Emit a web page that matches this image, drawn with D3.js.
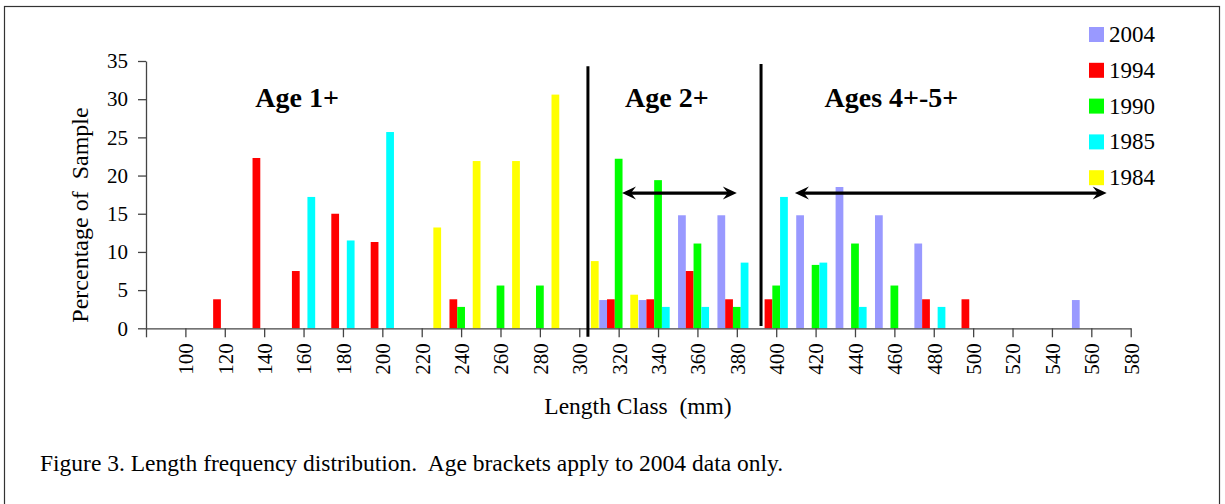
<!DOCTYPE html>
<html>
<head>
<meta charset="utf-8">
<script src="https://cdn.jsdelivr.net/npm/d3@7"></script>
<style>
  body { margin: 0; background: #fff; }
  text { font-family: "Liberation Serif", "Times New Roman", serif; fill: #000; }
</style>
</head>
<body>
<div id="chart-area"></div>
<script>
// length classes (mm) on the x axis
var lengthClasses = [100,120,140,160,180,200,220,240,260,280,300,320,340,360,380,400,420,440,460,480,500,520,540,560,580];
var series = ["2004","1994","1990","1985","1984"];
var colors = ["#9999FF","#FF0000","#00FF00","#00FFFF","#FFFF00"];

// percentage of sample, one value per length class
var v2004 = [0,0,0,0,0,0,0,0,0,0,0,3.7,3.7,14.8,14.8,0,14.8,18.5,14.8,11.1,0,0,0,3.7,0];
var v1994 = [0,3.8,22.3,7.5,15.0,11.3,0,3.8,0,0,0,3.8,3.8,7.5,3.8,3.8,0,0,0,3.8,3.8,0,0,0,0];
var v1990 = [0,0,0,0,0,0,0,2.8,5.6,5.6,0,22.2,19.4,11.1,2.8,5.6,8.3,11.1,5.6,0,0,0,0,0,0];
var v1985 = [0,0,0,17.2,11.5,25.7,0,0,0,0,0,0,2.8,2.8,8.6,17.2,8.6,2.8,0,2.8,0,0,0,0,0];
var v1984 = [0,0,0,0,0,0,13.2,21.9,21.9,30.6,8.8,4.4,0,0,0,0,0,0,0,0,0,0,0,0,0];
var yTicks = [0,5,10,15,20,25,30,35];

// age bracket annotations (in data units)
var ageLabels = [{text:"Age 1+", at:156.7}, {text:"Age 2+", at:344.5}, {text:"Ages 4+-5+", at:458.5}];
var dividers = [{at:304.4, top:34.3, bottom:-1.1}, {at:392.3, top:34.6, bottom:0.3}];
var arrows = [{from:321.7, to:380, y:17.7}, {from:409.5, to:567.8, y:17.7}];

var values = [v2004, v1994, v1990, v1985, v1984];

var width = 1225, height = 504;
var svg = d3.select("#chart-area").append("svg")
    .attr("width", width)
    .attr("height", height);

// outer frame
svg.append("rect")
    .attr("x", 4.5).attr("y", 6.5)
    .attr("width", 1215).attr("height", 520)
    .attr("fill", "none")
    .attr("stroke", "#333")
    .attr("stroke-width", 1.2);

var x = d3.scaleLinear().domain([80, 580]).range([146, 1130.7]);
var y = d3.scaleLinear().domain([0, 35]).range([328.3, 61]);
var step = x(100) - x(80);
var xSub = d3.scaleBand().domain(series).range([-step / 2, step / 2]).paddingOuter(0.04);

// bars
series.forEach(function(s, i) {
    var pts = lengthClasses.map(function(c, j) { return {c: c, v: values[i][j]}; })
        .filter(function(d) { return d.v > 0; });
    svg.append("g").selectAll("rect")
        .data(pts)
        .enter().append("rect")
        .attr("x", function(d) { return x(d.c) + xSub(s); })
        .attr("y", function(d) { return y(d.v); })
        .attr("width", xSub.bandwidth())
        .attr("height", function(d) { return y(0) - y(d.v); })
        .attr("fill", colors[i]);
});

// axes
var yAxis = d3.axisLeft(y).tickValues(yTicks).tickSize(8).tickSizeOuter(0).tickPadding(10);
var gy = svg.append("g")
    .attr("transform", "translate(" + x(80) + ",0)")
    .call(yAxis);
gy.selectAll("text").attr("font-size", "21px").attr("font-family", "Liberation Serif");

var xAxis = d3.axisBottom(x)
    .tickValues([80].concat(lengthClasses))
    .tickSize(9).tickSizeOuter(0)
    .tickFormat(function(d) { return d === 80 ? "" : d; });
var gx = svg.append("g")
    .attr("transform", "translate(0," + y(0) + ")")
    .call(xAxis);
gx.selectAll("text")
    .attr("font-size", "21px")
    .attr("font-family", "Liberation Serif")
    .attr("transform", "rotate(-90)")
    .attr("x", -15)
    .attr("y", 0)
    .attr("dy", "0.35em")
    .attr("text-anchor", "end");

svg.selectAll(".domain, .tick line").attr("stroke", "#444").attr("stroke-width", 1.3);

// axis titles
svg.append("text")
    .attr("x", 638)
    .attr("y", 414)
    .attr("font-size", "23.5px")
    .attr("text-anchor", "middle")
    .style("white-space", "pre")
    .text("Length Class  (mm)");

svg.append("text")
    .attr("transform", "rotate(-90)")
    .attr("x", -215)
    .attr("y", 88)
    .attr("font-size", "24px")
    .attr("text-anchor", "middle")
    .style("white-space", "pre")
    .text("Percentage of  Sample");

// dividers
svg.selectAll(".divider")
    .data(dividers)
    .enter().append("line")
    .attr("class", "divider")
    .attr("x1", function(d) { return x(d.at); })
    .attr("x2", function(d) { return x(d.at); })
    .attr("y1", function(d) { return y(d.top); })
    .attr("y2", function(d) { return y(d.bottom); })
    .attr("stroke", "#000")
    .attr("stroke-width", 3);

// double-headed arrows
function head(tx, ty, dir) {
    var l = 14, w = 6.5, n = 9;
    return "M" + tx + "," + ty +
        "L" + (tx - dir * l) + "," + (ty - w) +
        "L" + (tx - dir * n) + "," + ty +
        "L" + (tx - dir * l) + "," + (ty + w) + "Z";
}
arrows.forEach(function(a) {
    var x1 = x(a.from), x2 = x(a.to), yy = y(a.y);
    svg.append("line")
        .attr("x1", x1 + 8).attr("x2", x2 - 8)
        .attr("y1", yy).attr("y2", yy)
        .attr("stroke", "#000").attr("stroke-width", 3.2);
    svg.append("path").attr("d", head(x1, yy, -1)).attr("fill", "#000");
    svg.append("path").attr("d", head(x2, yy, 1)).attr("fill", "#000");
});

// age labels
svg.selectAll(".age")
    .data(ageLabels)
    .enter().append("text")
    .attr("class", "age")
    .attr("x", function(d) { return x(d.at); })
    .attr("y", 107)
    .attr("font-size", "28px")
    .attr("font-weight", "bold")
    .attr("text-anchor", "middle")
    .text(function(d) { return d.text; });

// legend
var legend = svg.append("g").attr("transform", "translate(1089,27)");
series.forEach(function(s, i) {
    var row = legend.append("g").attr("transform", "translate(0," + (i * 35.8) + ")");
    row.append("rect")
        .attr("width", 15).attr("height", 15)
        .attr("fill", colors[i]);
    row.append("text")
        .attr("x", 20)
        .attr("y", 15)
        .attr("font-size", "23px")
        .text(s);
});

// caption
svg.append("text")
    .attr("x", 40)
    .attr("y", 471)
    .attr("font-size", "23.5px")
    .style("white-space", "pre")
    .text("Figure 3. Length frequency distribution.  Age brackets apply to 2004 data only.");
</script>
</body>
</html>
